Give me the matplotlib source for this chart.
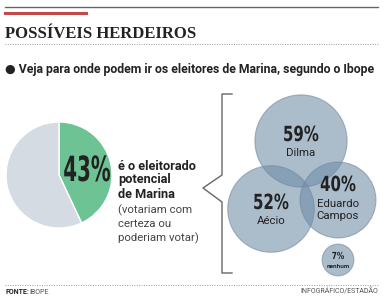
import numpy as np
import matplotlib
matplotlib.use("Agg")
import matplotlib.pyplot as plt
from matplotlib.patches import Circle
from matplotlib.patheffects import AbstractPathEffect
from matplotlib.transforms import Affine2D

# data
pie_labels = ["Marina", "outros"]
pie_values = [43, 57]

cand_names = ["Dilma", "Aécio", "Eduardo\nCampos", "nenhum"]
cand_values = [59, 52, 40, 7]
# layout (pixels, origin top-left)
cand_cx = [301, 271, 338, 338]
cand_cy = [141, 209, 200, 260]


class Squeeze(AbstractPathEffect):
    """narrow the glyphs horizontally around x0 (display px) -> condensed look"""
    def __init__(self, x0, sx):
        super().__init__()
        self.x0, self.sx = x0, sx

    def draw_path(self, renderer, gc, tpath, affine, rgbFace=None):
        aff = affine + Affine2D().translate(-self.x0, 0).scale(self.sx, 1).translate(self.x0, 0)
        renderer.draw_path(gc, tpath, aff, rgbFace)


W, H = 385, 298
fig = plt.figure(figsize=(W / 100, H / 100), dpi=100)

# pie (drawn first so the text axes sits on top)
pcx, pcy, pr = 59, 175, 53
pax = fig.add_axes([(pcx - pr) / W, (H - pcy - pr) / H, 2 * pr / W, 2 * pr / H])
pax.pie(pie_values, colors=["#6dc394", "#d5dbe3"], startangle=90, counterclock=False,
        wedgeprops=dict(edgecolor="white", linewidth=1.0))
pax.set_xlim(-1, 1)
pax.set_ylim(-1, 1)
pax.axis("off")

ax = fig.add_axes([0, 0, 1, 1])
ax.set_xlim(0, W)
ax.set_ylim(H, 0)
ax.axis("off")

sans = ["Roboto", "DejaVu Sans"]
dark = "#222222"


def cond_text(x, y, s, size, sx=0.7, **kw):
    x0 = ax.transData.transform((x, y))[0]
    return ax.text(x, y, s, family="DejaVu Sans", weight="bold", fontsize=size,
                   ha="center", va="center", color=dark,
                   path_effects=[Squeeze(x0, sx)], **kw)


# header rules
ax.plot([5, 378], [7, 7], color="#666666", lw=1.0)
ax.plot([5, 86], [13, 13], color="#c44a4a", lw=2.2)
ax.text(5, 38, "POSSÍVEIS HERDEIROS", family="Liberation Serif", weight="bold",
        fontsize=12, color=dark, va="baseline")
ax.plot([5, 378], [44, 44], color="#999999", lw=0.7, ls=(0, (1, 1.5)))
ax.text(5, 70, "● Veja para onde podem ir os eleitores de Marina, segundo o Ibope",
        family=sans, weight="bold", fontsize=8.8, color=dark, va="center")

cond_text(87, 171, f"{pie_values[0]}%", 25, sx=0.57, zorder=5)
for i, s in enumerate(["é o eleitorado", "potencial", "de Marina"]):
    ax.text(118, 166 + i * 14, s, family=sans, weight="bold", fontsize=9.2,
            color=dark, va="center")
for i, s in enumerate(["(votariam com", "certeza ou", "poderiam votar)"]):
    ax.text(118, 210 + i * 14, s, family=sans, fontsize=8.2,
            color="#444444", va="center")

# brace
bx = [232, 222, 222, 203, 222, 222, 232]
by = [94, 94, 175, 188, 202, 273, 273]
ax.plot(bx, by, color="#666666", lw=1.0)

# circles (area proportional to value)
for name, v, cx, cy in zip(cand_names, cand_values, cand_cx, cand_cy):
    r = 6.0 * np.sqrt(v)
    ax.add_patch(Circle((cx, cy), r, facecolor="#6f8ca6", alpha=0.58,
                        edgecolor="#6f889f", lw=0.8))
    if v > 10:
        n = name.count("\n")
        ty = cy - 6 - n * 9
        cond_text(cx, ty, f"{v}%", 15, sx=0.72)
        ax.text(cx, ty + 18 + n * 7, name, family=sans, fontsize=8.2,
                color=dark, ha="center", va="center", linespacing=1.15)
    else:
        cond_text(cx, cy - 4, f"{v}%", 7, sx=0.75)
        ax.text(cx, cy + 6, name, family=sans, weight="bold", fontsize=4.5,
                color=dark, ha="center", va="center")

# footer
ax.plot([5, 378], [285, 285], color="#999999", lw=0.7, ls=(0, (1, 1.5)))
ax.text(5, 292, "FONTE:", family=sans, weight="bold", fontsize=5, color=dark,
        va="center")
ax.text(29, 292, "IBOPE", family=sans, fontsize=5, color="#555555", va="center")
ax.text(378, 292, "INFOGRÁFICO/ESTADÃO", family=sans, fontsize=5, color="#555555",
        va="center", ha="right")

fig.savefig("out.png", dpi=100)
